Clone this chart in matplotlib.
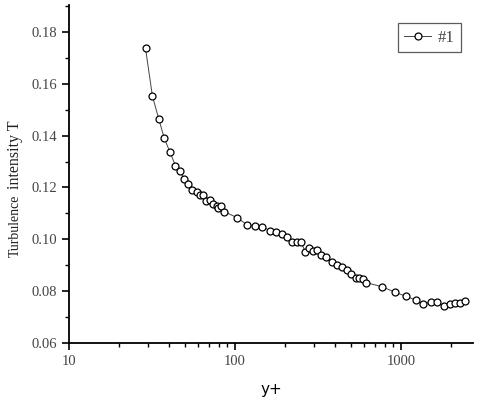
import matplotlib
matplotlib.use("Agg")
import matplotlib.pyplot as plt
from matplotlib.ticker import FixedLocator, MultipleLocator, NullFormatter

y_plus = [28.9, 31.8, 34.7, 37.5, 40.6, 43.8, 46.6, 49.5, 52.3, 55.3,
          58.8, 61.5, 64.4, 67.3, 70.4, 74.0, 77.4, 79.5, 82.4, 86.4,
          102.8, 117.6, 132, 146, 162.5, 176.6, 191.9, 206.5, 220.5, 235.3,
          249.8, 265.2, 279.2, 296.3, 313.3, 328.4, 353.3, 384, 411.7, 443,
          472.9, 501.9, 533.5, 560.9, 588, 618, 768.6, 920, 1072, 1226,
          1362, 1510, 1654, 1816, 1974, 2115, 2267, 2430]
turb = [0.1737, 0.1553, 0.1465, 0.1390, 0.1336, 0.1284, 0.1262, 0.1233, 0.1212, 0.1192,
        0.1184, 0.1171, 0.1172, 0.1148, 0.1153, 0.1135, 0.1127, 0.1120, 0.1129, 0.1106,
        0.1084, 0.1057, 0.1052, 0.1049, 0.1033, 0.1027, 0.1020, 0.1010, 0.0989, 0.0989,
        0.0989, 0.0952, 0.0966, 0.0955, 0.0959, 0.0940, 0.0931, 0.0912, 0.0901, 0.0892,
        0.0882, 0.0865, 0.0852, 0.0852, 0.0847, 0.0833, 0.0817, 0.0796, 0.0780, 0.0766,
        0.0751, 0.0757, 0.0757, 0.0744, 0.0751, 0.0753, 0.0756, 0.0763]
series_label = "#1"
x_ticks = [10, 100, 1000]
x_ticklabels = ["10", "100", "1000"]
y_ticks = [0.06, 0.08, 0.10, 0.12, 0.14, 0.16, 0.18]
y_ticklabels = ["0.06", "0.08", "0.10", "0.12", "0.14", "0.16", "0.18"]

fig = plt.figure(figsize=(4.8, 3.97), dpi=100)
ax = fig.add_axes([69/480, 1-343/397, (473-69)/480, (343-5)/397])

ax.plot(y_plus, turb, '-', color='#444444', lw=0.7, marker='o', ms=5,
        mfc='white', mec='black', mew=0.9, label=series_label)

ax.set_xscale('log')
ax.set_xlim(10, 2715)
ax.set_ylim(0.06, 0.1904)

ax.xaxis.set_major_locator(FixedLocator(x_ticks))
ax.set_xticklabels(x_ticklabels)
ax.xaxis.set_minor_locator(FixedLocator([20, 30, 40, 50, 60, 70, 80, 90,
                                         200, 300, 400, 500, 600, 700, 800, 900,
                                         2000]))
ax.xaxis.set_minor_formatter(NullFormatter())
ax.yaxis.set_major_locator(FixedLocator(y_ticks))
ax.set_yticklabels(y_ticklabels)
ax.yaxis.set_minor_locator(MultipleLocator(0.01))

for s in ['top', 'right']:
    ax.spines[s].set_visible(False)
for s in ['left', 'bottom']:
    ax.spines[s].set_linewidth(1.3)

ax.tick_params(which='major', direction='out', length=5, width=1.2,
               labelsize=10.5, labelcolor='#444444')
ax.tick_params(which='minor', direction='out', length=3, width=1.0)
for lab in ax.get_xticklabels() + ax.get_yticklabels():
    lab.set_fontfamily('Liberation Serif')

ax.set_xlabel('y+', fontsize=11, fontfamily='DejaVu Sans', labelpad=10)

fig.text(15/480, 1-226/397, 'Turbulence', rotation=90, ha='center', va='center',
         fontsize=10, fontfamily='Liberation Serif', color='#222222')
fig.text(15/480, 1-155/397, 'intensity T', rotation=90, ha='center', va='center',
         fontsize=11.5, fontfamily='Liberation Serif', color='#222222')

leg = ax.legend(loc='upper right', bbox_to_anchor=(461/480, 1-23/397),
                bbox_transform=fig.transFigure, frameon=True, fancybox=False,
                prop={'family': 'Liberation Serif', 'size': 12},
                handlelength=1.6, borderpad=0.4, borderaxespad=0,
                handletextpad=0.4, labelcolor='#444444')
leg.get_frame().set_edgecolor('#333333')
leg.get_frame().set_linewidth(0.9)

fig.savefig('out.png', dpi=100)
